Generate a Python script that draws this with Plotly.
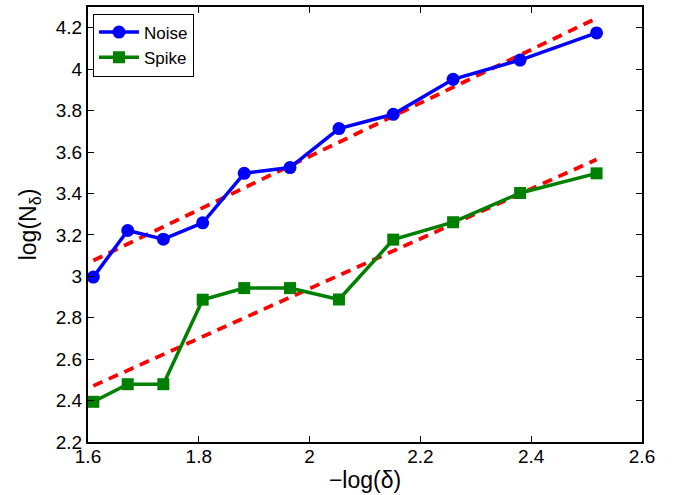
import plotly.graph_objects as go

x_vals = [1.6096, 1.6717, 1.736, 1.807, 1.882, 1.9646, 2.053, 2.151, 2.259, 2.380, 2.518]
noise = [2.996, 3.221, 3.179, 3.258, 3.497, 3.525, 3.713, 3.782, 3.951, 4.044, 4.175]
spike = [2.394, 2.479, 2.479, 2.887, 2.943, 2.943, 2.888, 3.177, 3.261, 3.402, 3.497]

fit_x = [1.6096, 2.518]
noise_fit = [3.076, 4.246]
spike_fit = [2.471, 3.564]

font_family = "Liberation Sans, Arial, sans-serif"

fig = go.Figure()
fig.add_trace(go.Scatter(x=fit_x, y=noise_fit, mode="lines", showlegend=False,
                         line=dict(color="#ff0000", width=3.8, dash="10px,7px")))
fig.add_trace(go.Scatter(x=fit_x, y=spike_fit, mode="lines", showlegend=False,
                         line=dict(color="#ff0000", width=3.8, dash="10px,7px")))
fig.add_trace(go.Scatter(x=x_vals, y=noise, mode="lines+markers", name="Noise",
                         line=dict(color="#0000ff", width=3.5),
                         marker=dict(symbol="circle", size=13, color="#0000ff")))
fig.add_trace(go.Scatter(x=x_vals, y=spike, mode="lines+markers", name="Spike",
                         line=dict(color="#008000", width=3.5),
                         marker=dict(symbol="square", size=12, color="#008000")))

axis_common = dict(showgrid=False, zeroline=False, showline=True, linecolor="black",
                   linewidth=2, mirror="ticks", ticks="inside", ticklen=6,
                   tickcolor="black", tickwidth=1,
                   tickfont=dict(family=font_family, size=19, color="black"))

fig.update_xaxes(range=[1.6, 2.6], tickvals=[1.6, 1.8, 2.0, 2.2, 2.4, 2.6],
                 ticktext=["1.6", "1.8", "2", "2.2", "2.4", "2.6"],
                 ticklabelstandoff=-4,
                 title=dict(text="\u2212log(\u03b4)", font=dict(family=font_family, size=23, color="black"),
                            standoff=6),
                 **axis_common)
fig.update_yaxes(range=[2.2, 4.3], tickvals=[2.2, 2.4, 2.6, 2.8, 3.0, 3.2, 3.4, 3.6, 3.8, 4.0, 4.2],
                 ticktext=["2.2", "2.4", "2.6", "2.8", "3", "3.2", "3.4", "3.6", "3.8", "4", "4.2"],
                 title=dict(text="log(N<sub>\u03b4</sub>)", font=dict(family=font_family, size=23, color="black"),
                            standoff=13),
                 **axis_common)

fig.update_layout(
    width=675, height=495,
    margin=dict(l=88, r=33, t=5, b=53),
    plot_bgcolor="white", paper_bgcolor="white",
    font=dict(family=font_family, color="black"),
    legend=dict(x=0.009, y=0.985, xanchor="left", yanchor="top",
                bgcolor="white", bordercolor="black", borderwidth=1,
                font=dict(family=font_family, size=17, color="black"),
                tracegroupgap=0, itemwidth=40),
)

fig.write_html("out.html", config={"displayModeBar": False},
               post_script="document.body.style.margin='0';document.body.style.overflow='hidden';")
